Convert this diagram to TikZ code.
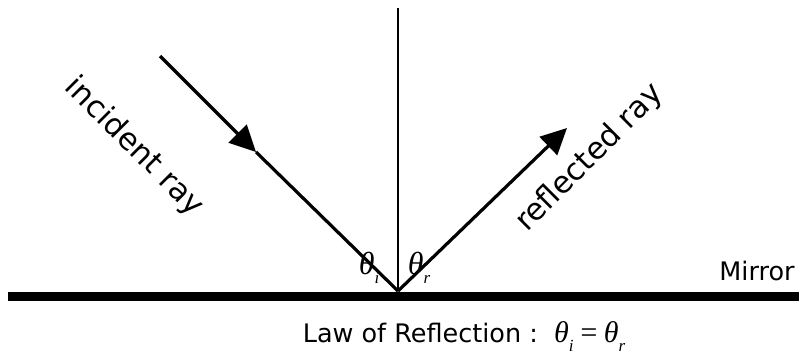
\documentclass[tikz,border=0pt]{standalone}
\usepackage{fontspec}
\setmainfont{DejaVu Sans}
\newfontfamily\thetafont{Liberation Serif}
\usetikzlibrary{arrows.meta}
\newcommand{\subtxt}[1]{\raisebox{-0.3em}{\fontsize{17pt}{20pt}\selectfont #1}}
\tikzset{
  ray/.style={line width=3.2pt},
  tip/.style={-{Triangle[length=26pt,width=25pt]}},
  lbl/.style={font=\fontsize{25.5pt}{30pt}\selectfont, inner sep=0pt},
  rlbl/.style={font=\fontsize{30.5pt}{35pt}\selectfont, inner sep=0pt},
  ang/.style={font=\fontsize{32pt}{36pt}\selectfont\thetafont\itshape, inner sep=0pt}
}
\begin{document}
\begin{tikzpicture}[x=1pt,y=-1pt]
\useasboundingbox (0,0) rectangle (799,358);
\coordinate (o) at (398,291);
\coordinate (top) at (398,8);
\coordinate (is) at (160,56);
\coordinate (it) at (256,152);
\coordinate (re) at (567,128);
\coordinate (ml) at (8,296);
\coordinate (mr) at (799,296);
\draw[line width=9pt] (ml) -- (mr);
\draw[line width=2pt] (top) -- (o);
\draw[ray,tip] (is) -- (it);
\draw[ray] (it) -- (o);
\draw[ray,tip] (o) -- (re);
\node[ang] (ti) at (369,268) {θ\subtxt{i}};
\node[ang] (tr) at (419,268) {θ\subtxt{r}};
\node[rlbl,rotate=-45] (inc) at (134,147) {incident ray};
\node[rlbl,rotate=45] (ref) at (590,158) {reflected ray};
\node[lbl] (mir) at (757,271) {Mirror};
\node[lbl] (law) at (464,337) {Law of Reflection :\ \ {\fontsize{30pt}{34pt}\selectfont\thetafont\itshape θ\subtxt{i}\,=\,θ\subtxt{r}}};
\end{tikzpicture}
\end{document}
